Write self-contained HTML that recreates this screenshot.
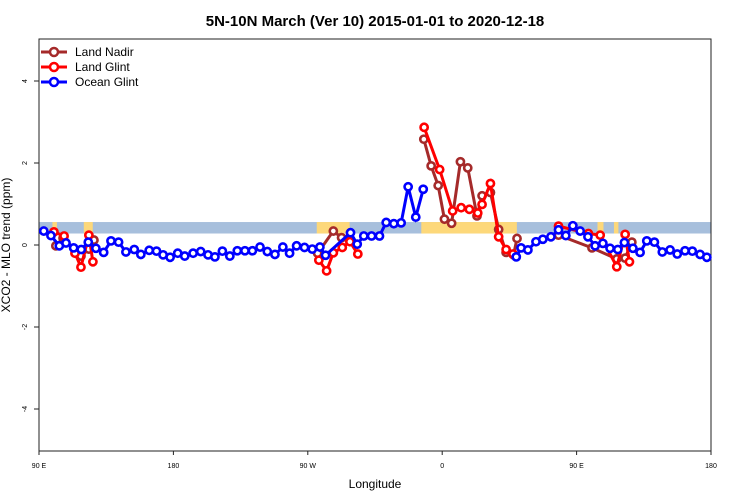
<!DOCTYPE html>
<html><head><meta charset="utf-8">
<style>
html,body{margin:0;padding:0;background:#fff;}
svg{display:block;font-family:"Liberation Sans",sans-serif;}
</style></head>
<body>
<svg id="chart" width="750" height="500" viewBox="0 0 750 500" xmlns="http://www.w3.org/2000/svg">
<text x="375" y="26" text-anchor="middle" font-size="15" font-weight="bold">5N-10N March (Ver 10)   2015-01-01 to 2020-12-18</text>
<g id="bg"></g>
<g id="axes"></g>
<g id="series"></g>
<text x="375" y="488" text-anchor="middle" font-size="12">Longitude</text>
<text transform="translate(10,245) rotate(-90)" text-anchor="middle" font-size="12">XCO2 - MLO trend (ppm)</text>
<g font-size="12">
  <line x1="41" y1="52" x2="67" y2="52" stroke="#a52a2a" stroke-width="3"/><circle cx="54" cy="52" r="4" fill="#fff" stroke="#a52a2a" stroke-width="2.5"/>
  <text x="75" y="56">Land Nadir</text>
  <line x1="41" y1="67" x2="67" y2="67" stroke="#ff0000" stroke-width="3"/><circle cx="54" cy="67" r="4" fill="#fff" stroke="#ff0000" stroke-width="2.5"/>
  <text x="75" y="71">Land Glint</text>
  <line x1="41" y1="82" x2="67" y2="82" stroke="#0000ff" stroke-width="3"/><circle cx="54" cy="82" r="4" fill="#fff" stroke="#0000ff" stroke-width="2.5"/>
  <text x="75" y="86">Ocean Glint</text>
</g>
</svg>
<script>
// longitude in degrees east of 90E (0..450), values in ppm
const xTickPos = [0, 90, 180, 270, 360, 450];
const xTickLabels = ["90 E", "180", "90 W", "0", "90 E", "180"];
const yTicks = [-4, -2, 0, 2, 4];
const oceanLon = [3.2,8.0,13.6,18.1,23.2,28.3,33.0,38.1,43.3,48.2,53.3,58.2,63.8,68.2,73.8,78.7,83.1,87.8,92.9,97.6,103.2,108.3,113.2,117.8,122.8,127.8,132.8,137.9,142.9,148.0,152.9,158.0,163.3,167.8,172.5,177.8,183.0,188.1,191.9,208.6,213.1,217.5,222.7,228.0,232.5,237.6,242.5,247.2,252.3,257.3,null,319.6,322.8,327.4,332.8,337.4,342.8,347.9,352.8,357.5,362.4,367.6,372.4,377.6,382.4,387.6,392.0,397.7,402.5,407.0,412.1,417.4,422.6,427.4,432.6,437.5,442.7,447.2];
const oceanVal = [0.34,0.23,-0.02,0.05,-0.07,-0.11,0.07,-0.08,-0.18,0.10,0.07,-0.17,-0.11,-0.23,-0.13,-0.15,-0.24,-0.30,-0.20,-0.27,-0.20,-0.16,-0.24,-0.29,-0.15,-0.27,-0.14,-0.14,-0.14,-0.05,-0.16,-0.23,-0.05,-0.20,-0.02,-0.06,-0.10,-0.05,-0.25,0.30,0.02,0.22,0.22,0.22,0.55,0.52,0.54,1.42,0.68,1.36,null,-0.29,-0.07,-0.12,0.08,0.14,0.20,0.37,0.23,0.47,0.34,0.20,-0.02,0.04,-0.08,-0.11,0.06,-0.08,-0.18,0.10,0.07,-0.17,-0.12,-0.22,-0.14,-0.15,-0.23,-0.30];
const glintLon = [10.0,16.8,24.1,28.1,33.4,36.1,null,187.4,192.6,197.1,203.1,208.2,213.5,null,257.9,268.3,277.0,282.7,288.2,293.8,296.7,302.3,307.8,312.8,317.4,null,347.9,367.9,375.8,386.9,392.5,395.4];
const glintVal = [0.32,0.22,-0.20,-0.54,0.24,-0.41,null,-0.37,-0.63,-0.19,-0.06,0.08,-0.22,null,2.87,1.84,0.83,0.91,0.87,0.78,0.99,1.50,0.20,-0.11,-0.22,null,0.46,0.28,0.24,-0.53,0.26,-0.41];
const nadirLon = [11.3,16.1,28.1,33.4,36.8,null,186.6,197.1,202.6,207.9,null,257.7,262.6,267.3,271.5,276.3,282.2,287.1,293.3,296.7,302.3,307.8,312.8,317.8,320.1,null,347.9,370.3,386.9,392.5,397.0];
const nadirVal = [-0.02,0.17,-0.27,-0.10,0.12,null,-0.20,0.34,0.18,0.12,null,2.58,1.93,1.45,0.63,0.53,2.03,1.88,0.71,1.20,1.28,0.38,-0.18,-0.24,0.16,null,0.24,-0.07,-0.34,-0.32,0.07];
const landLon = [[9,12],[30,36],[186,208],[256,320],[346,350],[374,378],[385,388]];

const NS="http://www.w3.org/2000/svg";
const X0=39,X1=711,Y0=39,Y1=451;
const xs=d=>X0+d/450*(X1-X0);
const ys=v=>245-v*41;
function mk(tag,attrs,parent){const e=document.createElementNS(NS,tag);for(const k in attrs)e.setAttribute(k,attrs[k]);parent.appendChild(e);return e;}
const bg=document.getElementById('bg'),ax=document.getElementById('axes'),se=document.getElementById('series');
let band=mk('rect',{x:X0,y:ys(0.56),width:X1-X0,height:ys(0.28)-ys(0.56),fill:'#a7bfdc'},bg);


landLon.forEach(r=>{const e=mk('rect',{x:xs(r[0]),y:ys(0.56),width:xs(r[1])-xs(r[0]),height:ys(0.28)-ys(0.56),fill:'#fdd87a'},bg);

});
let box=mk('rect',{x:X0,y:Y0,width:X1-X0,height:Y1-Y0,fill:'none',stroke:'#222','stroke-width':1},ax);


xTickPos.forEach((d,i)=>{mk('line',{x1:xs(d),x2:xs(d),y1:Y1,y2:Y1+4,stroke:'#222'},ax);
const t=mk('text',{x:xs(d),y:468,'text-anchor':'middle','font-size':7},ax);t.textContent=xTickLabels[i];

});
yTicks.forEach(v=>{mk('line',{x1:X0-5,x2:X0,y1:ys(v),y2:ys(v),stroke:'#222'},ax);
const t=mk('text',{transform:`translate(27,${ys(v)}) rotate(-90)`,'text-anchor':'middle','font-size':7},ax);t.textContent=v;

});
function draw(lon,val,color,name){
 let segs=[[]];lon.forEach((l,i)=>{if(l===null)segs.push([]);else segs[segs.length-1].push([xs(l),ys(val[i])]);});
 const g=mk('g',{},se);
 
 
 segs.forEach(s=>{if(s.length>1)mk('polyline',{points:s.map(p=>p.join(',')).join(' '),fill:'none',stroke:color,'stroke-width':3},g);});
 segs.forEach(s=>s.forEach(p=>{const c=mk('circle',{cx:p[0],cy:p[1],r:3.6,fill:'#fff',stroke:color,'stroke-width':2.6},g);
 
 }));
}
draw(nadirLon,nadirVal,'#a52a2a','land-nadir-series');
draw(glintLon,glintVal,'#ff0000','land-glint-series');
draw(oceanLon,oceanVal,'#0000ff','ocean-glint-series');
</script>
</body></html>
